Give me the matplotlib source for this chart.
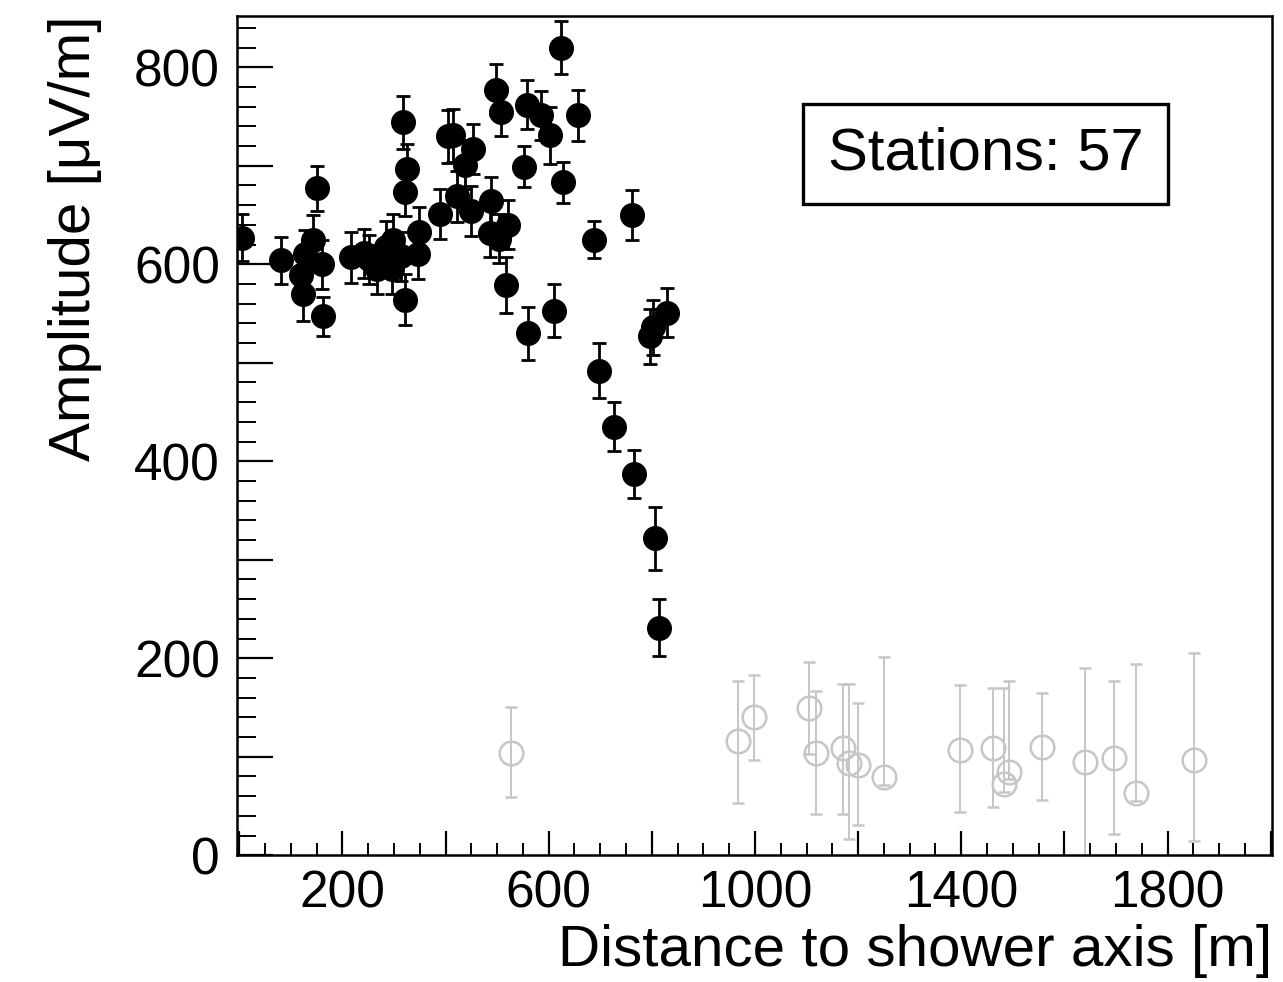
import matplotlib
matplotlib.use("Agg")
import matplotlib.pyplot as plt
from matplotlib.ticker import MultipleLocator, FuncFormatter
from matplotlib.patches import Rectangle

plt.rcParams['font.family'] = ['Liberation Sans', 'DejaVu Sans']

# Stations with signal (filled black)
sig_dist = [6, 80, 120, 124, 128, 142, 151, 161, 163, 216, 241, 251, 268, 284, 299,
            297, 313, 318, 326, 322, 322, 346, 348, 390, 404, 414, 423, 437, 454, 450,
            489, 487, 503, 522, 517, 497, 507, 552, 559, 557, 586, 602, 610, 623, 627,
            656, 687, 697, 726, 761, 765, 796, 802, 806, 814, 829]
sig_amp = [627, 604, 589, 570, 610, 625, 677, 600, 547, 607, 611, 605, 595, 618, 625,
           595, 608, 744, 697, 673, 564, 610, 633, 651, 730, 731, 669, 701, 717, 654,
           664, 632, 626, 640, 579, 777, 755, 699, 530, 762, 751, 731, 553, 820, 683,
           751, 625, 492, 435, 650, 387, 527, 536, 322, 231, 551]
sig_err = [24, 24, 25, 28, 25, 25, 23, 25, 20, 26, 25, 25, 25, 26, 26,
           25, 25, 27, 25, 24, 26, 25, 25, 25, 27, 27, 26, 25, 25, 25,
           25, 25, 25, 25, 28, 26, 25, 21, 27, 25, 25, 29, 27, 27, 21,
           26, 19, 28, 25, 25, 24, 28, 28, 32, 29, 25]

# Stations without signal (open grey)
nos_dist = [526, 967, 998, 1105, 1118, 1171, 1183, 1200, 1250, 1398, 1462, 1483, 1493,
            1557, 1639, 1697, 1738, 1852]
nos_amp = [104, 116, 140, 150, 104, 109, 94, 92, 79, 107, 109, 72, 85, 110, 95, 99, 63, 97]
nos_err_up = [47, 61, 43, 46, 63, 65, 80, 63, 122, 66, 61, 98, 92, 55, 95, 78, 131, 108]
nos_err_lo = [45, 63, 43, 47, 62, 67, 77, 61, 8, 63, 60, 8, 8, 54, 100, 77, 8, 82]

x_tick_labels = {200: "200", 600: "600", 1000: "1000", 1400: "1400", 1800: "1800"}
y_tick_labels = {0: "0", 200: "200", 400: "400", 600: "600", 800: "800"}

fig = plt.figure(figsize=(12.83, 9.82), dpi=100)
ax = fig.add_axes([236.7 / 1283, 1 - 855.3 / 982, 1035 / 1283, 839.3 / 982])

grey = '#c6c6c6'
ax.errorbar(nos_dist, nos_amp, yerr=[nos_err_lo, nos_err_up], fmt='o', color=grey,
            mfc='none', mec=grey, ms=17, mew=1.8, elinewidth=1.4, capsize=4,
            capthick=1.4, zorder=2)
ax.errorbar(sig_dist, sig_amp, yerr=sig_err, fmt='o', color='black', mfc='black',
            mec='black', ms=17, elinewidth=2.0, capsize=5, capthick=2.0, zorder=3)

ax.set_xlim(-5, 2002)
ax.set_ylim(0, 852)

ax.xaxis.set_major_locator(MultipleLocator(200))
ax.xaxis.set_minor_locator(MultipleLocator(50))
ax.yaxis.set_major_locator(MultipleLocator(100))
ax.yaxis.set_minor_locator(MultipleLocator(20))
ax.xaxis.set_major_formatter(FuncFormatter(lambda v, p: x_tick_labels.get(int(round(v)), "")))
ax.yaxis.set_major_formatter(FuncFormatter(lambda v, p: y_tick_labels.get(int(round(v)), "")))

ax.tick_params(axis='x', which='major', direction='in', length=17, width=1.6,
               labelsize=37, pad=10, top=False)
ax.tick_params(axis='x', which='minor', direction='in', length=9, width=1.4, top=False)
ax.tick_params(axis='y', which='major', direction='in', length=26, width=1.6,
               labelsize=37, pad=12, right=False)
ax.tick_params(axis='y', which='minor', direction='in', length=14, width=1.4, right=False)

for s in ax.spines.values():
    s.set_linewidth(1.8)

ax.set_xlabel("Distance to shower axis [m]", fontsize=42, loc='right')
ax.xaxis.set_label_coords(1.0, -0.082)
ax.set_ylabel("Amplitude [\u03bcV/m]", fontsize=42, loc='top')
ax.yaxis.set_label_coords(-0.13, 1.0)

# Stats box
box = Rectangle((0.547, 0.776), 0.353, 0.119, transform=ax.transAxes, fill=True,
                facecolor='white', edgecolor='black', linewidth=2.4, zorder=5)
ax.add_patch(box)
ax.text(0.7235, 0.8355, "Stations: 57", transform=ax.transAxes, ha='center', va='center',
        fontsize=43, zorder=6)

fig.savefig("out.png", dpi=100)
